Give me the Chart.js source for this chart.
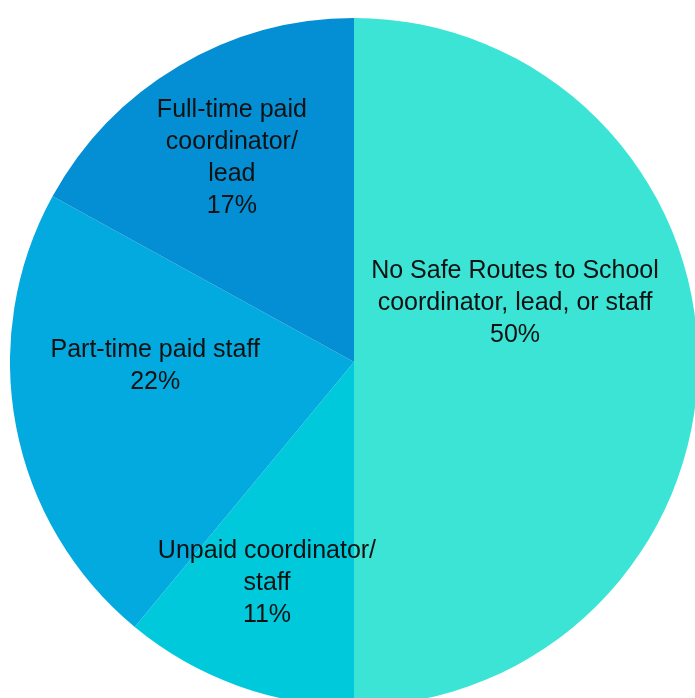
<!DOCTYPE html>
<html>
<head>
<meta charset="utf-8">
<script src="https://cdn.jsdelivr.net/npm/chart.js@4"></script>
<style>
    html, body { margin: 0; padding: 0; background: #fff; overflow: hidden; }
    body { width: 695px; height: 698px; position: relative; }
    #wrap { position: absolute; left: 10px; top: 18px; width: 688px; height: 688px; }
</style>
</head>
<body>
<div id="wrap"><canvas id="pieChart" width="688" height="688"></canvas></div>
<script>
// Staffing breakdown (clockwise from 12 o'clock)
const categories = [
    ['No Safe Routes to School', 'coordinator, lead, or staff'],
    ['Unpaid coordinator/', 'staff'],
    ['Part-time paid staff'],
    ['Full-time paid', 'coordinator/', 'lead']
];
const shares = [50, 11, 22, 17];
const sliceColors = ['#3be4d5', '#00c9dc', '#02aadf', '#048fd5'];

// where each label block sits, relative to the pie centre, in radius units
const labelOffsets = [[0.468, -0.172], [-0.253, 0.642], [-0.578, 0.012], [-0.355, -0.592]];

const sliceLabels = {
    id: 'sliceLabels',
    afterDatasetsDraw(chart) {
        const ctx = chart.ctx;
        const meta = chart.getDatasetMeta(0);
        ctx.save();
        ctx.font = '25px "Liberation Sans", Arial, sans-serif';
        ctx.fillStyle = '#111';
        ctx.textAlign = 'center';
        ctx.textBaseline = 'middle';
        const lineH = 32;
        meta.data.forEach((arc, i) => {
            const lines = categories[i].concat([shares[i] + '%']);
            const cx = arc.x + labelOffsets[i][0] * arc.outerRadius;
            const cy = arc.y + labelOffsets[i][1] * arc.outerRadius;
            const top = cy - (lines.length - 1) * lineH / 2;
            lines.forEach((txt, k) => ctx.fillText(txt, cx, top + k * lineH));
        });
        ctx.restore();
    }
};

new Chart(document.getElementById('pieChart'), {
    type: 'pie',
    data: {
        labels: categories.map(c => c.join(' ')),
        datasets: [{
            data: shares,
            backgroundColor: sliceColors,
            borderWidth: 0,
            hoverOffset: 0
        }]
    },
    options: {
        responsive: false,
        animation: false,
        layout: { padding: 0 },
        plugins: {
            legend: { display: false },
            tooltip: { enabled: false }
        }
    },
    plugins: [sliceLabels]
});
</script>
</body>
</html>
